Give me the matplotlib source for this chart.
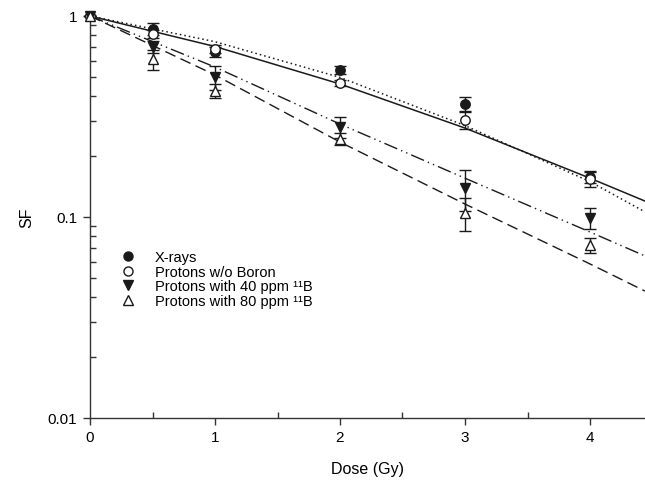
import matplotlib
matplotlib.use("Agg")
import matplotlib.pyplot as plt
from matplotlib.lines import Line2D
from matplotlib.ticker import FixedLocator, LogLocator, NullFormatter

plt.rcParams['font.family'] = ['Liberation Sans', 'DejaVu Sans']

# measured data
dose = [0, 0.5, 1, 2, 3, 4]
xray = [1.0, 0.861, 0.662, 0.540, 0.365, 0.158]
xray_err = [0, 0.06, 0.04, 0.025, 0.03, 0.011]
p0 = [1.0, 0.814, 0.685, 0.464, 0.304, 0.154]
p0_err = [0, 0.04, 0.03, 0.015, 0.03, 0.013]
p40 = [1.0, 0.701, 0.497, 0.280, 0.139, 0.099]
p40_err = [0, 0.05, 0.07, 0.033, 0.032, 0.012]
p80 = [1.0, 0.611, 0.424, 0.244, 0.105, 0.0725]
p80_err = [0, 0.07, 0.035, 0.017, 0.02, 0.006]

# fitted curves
fit_dose = [0, 1, 2, 3, 4, 4.44]
fit_xray = [1.0, 0.705, 0.459, 0.277, 0.156, 0.120]
fit_p0 = [1.0, 0.745, 0.495, 0.285, 0.150, 0.106]
fit_p40 = [1.0, 0.557, 0.290, 0.156, 0.0842, 0.064]
fit_p80 = [1.0, 0.509, 0.236, 0.116, 0.0584, 0.0428]

labels = ['X-rays', 'Protons w/o Boron', 'Protons with 40 ppm \u00b9\u00b9B',
          'Protons with 80 ppm \u00b9\u00b9B']

fig = plt.figure(figsize=(6.45, 4.85), dpi=100)
ax = fig.add_axes([90/645, 66/485, 1 - 90/645, 402/485])

lc = '#1a1a1a'
ax.plot(fit_dose, fit_xray, color=lc, lw=1.1, ls='-')
ax.plot(fit_dose, fit_p0, color=lc, lw=1.1, ls=(0, (1, 2)))
ax.plot(fit_dose, fit_p40, color=lc, lw=1.0, ls=(0, (10, 3, 1.0, 3, 1.0, 3)))
ax.plot(fit_dose, fit_p80, color=lc, lw=1.0, ls=(0, (8, 4)))

ms = 6.8
styles = [
    (xray, xray_err, 'o', lc),
    (p0, p0_err, 'o', 'white'),
    (p40, p40_err, 'v', lc),
    (p80, p80_err, '^', 'white'),
]
for vals, err, m, fc in styles:
    ax.errorbar(dose, vals, yerr=err, fmt=m, ms=ms, mfc=fc, mec=lc, mew=1.0,
                ecolor=lc, elinewidth=1.0, capsize=4, capthick=1.0,
                clip_on=False, zorder=3)

ax.set_yscale('log')
ax.set_ylim(0.01, 1)
ax.set_xlim(0, 4.44)
ax.xaxis.set_major_locator(FixedLocator([0, 1, 2, 3, 4]))
ax.xaxis.set_minor_locator(FixedLocator([0.5, 1.5, 2.5, 3.5]))
ax.set_yticks([0.01, 0.1, 1])
ax.set_yticklabels(['0.01', '0.1', '1'])
ax.yaxis.set_minor_locator(LogLocator(base=10, subs=range(2, 10)))
ax.yaxis.set_minor_formatter(NullFormatter())
ax.tick_params(which='major', direction='out', length=5, width=1, labelsize=11, color='#333')
ax.tick_params(which='minor', direction='in', length=4, width=1, color='#333')
ax.tick_params(axis='x', which='major', pad=4)
ax.tick_params(axis='y', which='major', pad=4)

for s in ['top', 'right']:
    ax.spines[s].set_visible(False)
for s in ['left', 'bottom']:
    ax.spines[s].set_color('#333')
    ax.spines[s].set_linewidth(1.0)

ax.set_xlabel('Dose (Gy)', fontsize=11.5, labelpad=12)
ax.set_ylabel('SF', fontsize=11.5, labelpad=10)

handles = [
    Line2D([], [], ls='none', marker='o', ms=6.5, mfc=lc, mec=lc),
    Line2D([], [], ls='none', marker='o', ms=6.5, mfc='white', mec=lc),
    Line2D([], [], ls='none', marker='v', ms=6.5, mfc=lc, mec=lc),
    Line2D([], [], ls='none', marker='^', ms=6.5, mfc='white', mec=lc),
]
ax.legend(handles, labels, loc='upper left', bbox_to_anchor=(0.056, 0.418),
          frameon=False, fontsize=10.5, handlelength=1.0, handletextpad=1.3,
          labelspacing=0.05, borderaxespad=0, borderpad=0)

fig.savefig('out.png', dpi=100)
